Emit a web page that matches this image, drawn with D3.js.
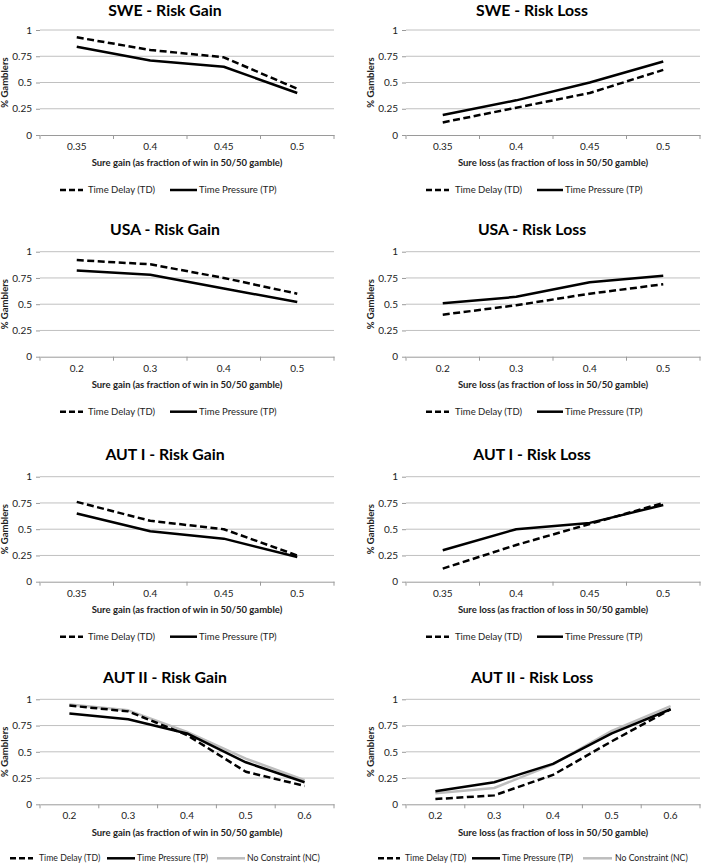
<!DOCTYPE html>
<html>
<head>
<meta charset="utf-8">
<script src="https://cdn.jsdelivr.net/npm/d3@7"></script>
<style>
  html, body { margin: 0; padding: 0; background: #fff; }
  svg { display: block; font-family: Lato, "Open Sans", sans-serif; }
</style>
</head>
<body>
<svg id="chart" width="702" height="863"></svg>
<script>
// ---------- DATA ----------
const catsA = ["0.35", "0.4", "0.45", "0.5"];
const catsB = ["0.2", "0.3", "0.4", "0.5"];
const catsC = ["0.2", "0.3", "0.4", "0.5", "0.6"];
const yTickValues = [0, 0.25, 0.5, 0.75, 1];

const sweGainTD = [0.93, 0.81, 0.74, 0.44];
const sweGainTP = [0.84, 0.71, 0.65, 0.40];
const sweLossTD = [0.12, 0.26, 0.40, 0.62];
const sweLossTP = [0.19, 0.33, 0.50, 0.70];

const usaGainTD = [0.92, 0.88, 0.75, 0.60];
const usaGainTP = [0.82, 0.78, 0.65, 0.52];
const usaLossTD = [0.40, 0.49, 0.60, 0.69];
const usaLossTP = [0.51, 0.57, 0.71, 0.77];

const aut1GainTD = [0.76, 0.58, 0.50, 0.25];
const aut1GainTP = [0.65, 0.48, 0.41, 0.235];
const aut1LossTD = [0.125, 0.35, 0.55, 0.75];
const aut1LossTP = [0.30, 0.50, 0.56, 0.73];

const aut2GainTD = [0.94, 0.885, 0.66, 0.31, 0.175];
const aut2GainTP = [0.865, 0.81, 0.675, 0.40, 0.21];
const aut2GainNC = [0.95, 0.895, 0.69, 0.435, 0.23];
const aut2LossTD = [0.05, 0.085, 0.28, 0.60, 0.905];
const aut2LossTP = [0.125, 0.21, 0.385, 0.675, 0.905];
const aut2LossNC = [0.105, 0.155, 0.38, 0.70, 0.935];

const titles = ["SWE - Risk Gain", "SWE - Risk Loss", "USA - Risk Gain", "USA - Risk Loss",
                "AUT I - Risk Gain", "AUT I - Risk Loss", "AUT II - Risk Gain", "AUT II - Risk Loss"];
const xTitleGain = "Sure gain (as fraction of win in 50/50 gamble)";
const xTitleLoss = "Sure loss (as fraction of loss in 50/50 gamble)";
const yTitle = "% Gamblers";
const seriesNames = ["Time Delay (TD)", "Time Pressure (TP)", "No Constraint (NC)"];

// ---------- STYLE / LAYOUT ----------
const styles = {
  TD: { stroke: "#000", width: 2.5, dash: "7,3.5" },
  TP: { stroke: "#000", width: 2.5, dash: null },
  NC: { stroke: "#bdbdbd", width: 2.5, dash: null }
};
const colLayout = [
  { x0: 40, x1: 334, titleX: 165, yLabX: 5 },
  { x0: 406, x1: 700, titleX: 532, yLabX: 371 }
];
const rowTop = [30, 251.7, 476.7, 699.3];
const plotH = 105;

const legendLayout = {
  L2: [{ x: 60, len: 23, tx: 88 }, { x: 170, len: 27, tx: 199 }],
  R2: [{ x: 426, len: 23, tx: 455 }, { x: 537, len: 26, tx: 565 }],
  L3: [{ x: 10, len: 23, tx: 39 }, { x: 107, len: 28, tx: 137 }, { x: 217, len: 28, tx: 247 }],
  R3: [{ x: 378, len: 22, tx: 405 }, { x: 472, len: 28, tx: 502 }, { x: 583, len: 29, tx: 615 }]
};

const panels = [
  { row: 0, col: 0, cats: catsA, series: [["TD", sweGainTD], ["TP", sweGainTP]], xt: xTitleGain },
  { row: 0, col: 1, cats: catsA, series: [["TD", sweLossTD], ["TP", sweLossTP]], xt: xTitleLoss },
  { row: 1, col: 0, cats: catsB, series: [["TD", usaGainTD], ["TP", usaGainTP]], xt: xTitleGain },
  { row: 1, col: 1, cats: catsB, series: [["TD", usaLossTD], ["TP", usaLossTP]], xt: xTitleLoss },
  { row: 2, col: 0, cats: catsA, series: [["TD", aut1GainTD], ["TP", aut1GainTP]], xt: xTitleGain },
  { row: 2, col: 1, cats: catsA, series: [["TD", aut1LossTD], ["TP", aut1LossTP]], xt: xTitleLoss },
  { row: 3, col: 0, cats: catsC, series: [["NC", aut2GainNC], ["TD", aut2GainTD], ["TP", aut2GainTP]], xt: xTitleGain },
  { row: 3, col: 1, cats: catsC, series: [["NC", aut2LossNC], ["TD", aut2LossTD], ["TP", aut2LossTP]], xt: xTitleLoss }
];

const svg = d3.select("#chart");
const gridColor = "#c0c0c0";
const axisColor = "#9a9a9a";
const textColor = "#222";

panels.forEach((p, i) => {
  const cl = colLayout[p.col];
  const yTop = rowTop[p.row];
  const yBot = yTop + plotH;
  const g = svg.append("g");

  const x = d3.scaleBand().domain(p.cats).range([cl.x0, cl.x1]).paddingInner(0).paddingOuter(0);
  const y = d3.scaleLinear().domain([0, 1]).range([yBot, yTop]);

  // gridlines
  g.selectAll("line.grid").data(yTickValues.filter(v => v > 0)).join("line")
    .attr("x1", cl.x0).attr("x2", cl.x1)
    .attr("y1", d => y(d)).attr("y2", d => y(d))
    .attr("stroke", gridColor).attr("stroke-width", 1);

  // y axis (labels + small ticks)
  const ya = g.append("g").attr("transform", `translate(${cl.x0},0)`)
    .call(d3.axisLeft(y).tickValues(yTickValues).tickFormat(d => String(d)).tickSize(4).tickPadding(4));
  ya.select(".domain").remove();
  ya.selectAll(".tick line").attr("stroke", axisColor);
  ya.selectAll(".tick text").attr("fill", textColor).style("font-size", "10px").style("font-family", "Lato");

  // x axis
  const xa = g.append("g").attr("transform", `translate(0,${yBot})`)
    .call(d3.axisBottom(x).tickSize(0).tickPadding(8));
  xa.select(".domain").attr("stroke", axisColor);
  xa.selectAll(".tick text").attr("fill", textColor).style("font-size", "10px").style("font-family", "Lato");
  const bounds = p.cats.map(c => x(c)).concat([cl.x1]);
  g.selectAll("line.xt").data(bounds).join("line")
    .attr("x1", d => d).attr("x2", d => d)
    .attr("y1", yBot).attr("y2", yBot + 4)
    .attr("stroke", axisColor);

  // lines
  const line = d3.line().x((d, j) => x(p.cats[j]) + x.bandwidth() / 2).y(d => y(d));
  p.series.forEach(([key, vals]) => {
    const s = styles[key];
    g.append("path").datum(vals)
      .attr("d", line)
      .attr("fill", "none")
      .attr("stroke", s.stroke)
      .attr("stroke-width", s.width)
      .attr("stroke-dasharray", s.dash)
      .attr("stroke-linejoin", "round");
  });

  // title
  g.append("text").attr("x", cl.titleX).attr("y", Math.max(yTop - 16.3, 15.6))
    .attr("text-anchor", "middle").style("font-weight", "bold").style("font-size", "15.8px")
    .attr("fill", "#000").text(titles[i]);

  // y title
  g.append("text").attr("transform", `translate(${cl.yLabX},${y(0.5)}) rotate(-90)`)
    .attr("dy", "0.35em").attr("text-anchor", "middle")
    .style("font-weight", "bold").style("font-size", "9.5px").attr("fill", textColor).text(yTitle);

  // x title
  g.append("text").attr("x", (cl.x0 + cl.x1) / 2).attr("y", yBot + 28).attr("dy", "0.35em")
    .attr("text-anchor", "middle").style("font-weight", "bold").style("font-size", "9.5px")
    .attr("fill", textColor).text(p.xt);

  // legend
  const three = p.series.length === 3;
  const lay = legendLayout[(p.col === 0 ? "L" : "R") + (three ? "3" : "2")];
  const keys = three ? ["TD", "TP", "NC"] : ["TD", "TP"];
  const ly = yBot + (three ? 54 : 55);
  keys.forEach((k, j) => {
    const s = styles[k];
    const it = lay[j];
    g.append("line").attr("x1", it.x).attr("x2", it.x + it.len).attr("y1", ly).attr("y2", ly)
      .attr("stroke", s.stroke).attr("stroke-width", s.width).attr("stroke-dasharray", k === "TD" ? "6,3" : null);
    g.append("text").attr("x", it.tx).attr("y", ly).attr("dy", "0.35em")
      .style("font-size", three ? "8.7px" : "9.5px").attr("fill", textColor).text(seriesNames[j]);
  });
});
</script>
</body>
</html>
